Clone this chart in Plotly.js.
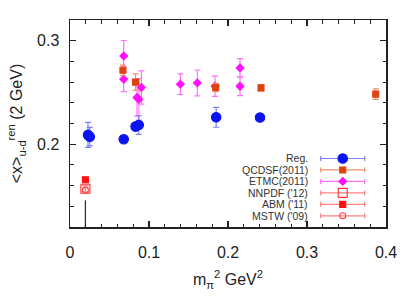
<!DOCTYPE html>
<html><head><meta charset="utf-8">
<script src="https://cdn.plot.ly/plotly-3.0.1.min.js"></script>
<style>html,body{margin:0;padding:0;background:#fff}#chart{width:415px;height:297px}</style>
</head><body><div id="chart"></div>
<script>
// ---- data ----
const regX = [0.0228, 0.0250, 0.0680, 0.0830, 0.0870, 0.1850, 0.2405];
const regY = [0.2090, 0.2073, 0.2048, 0.2170, 0.2185, 0.2260, 0.2258];
const regErr = [0.012, 0.009, 0.003, 0.004, 0.009, 0.0096, 0.003];

const qcdsfX = [0.067, 0.083, 0.1844, 0.2418, 0.387];
const qcdsfY = [0.2714, 0.2600, 0.2548, 0.2544, 0.2484];
const qcdsfErr = [0.005, 0.008, 0.004, 0.003, 0.005];

const etmcX = [0.068, 0.068, 0.0848, 0.0872, 0.0904, 0.1397, 0.1612, 0.1836, 0.2152, 0.2152];
const etmcY = [0.2852, 0.2628, 0.2452, 0.2433, 0.2548, 0.2580, 0.2592, 0.2560, 0.2737, 0.2560];
const etmcErr = [0.015, 0.012, 0.018, 0.020, 0.016, 0.010, 0.0125, 0.0097, 0.009, 0.009];

const nnpdfX = [0.0195], nnpdfY = [0.1570], nnpdfErr = [0.003];
const abmX = [0.0195], abmY = [0.1657], abmErr = [0.002];
const mstwX = [0.0195], mstwY = [0.1554], mstwErr = [0.003];
const stemX = [0.0195, 0.0195], stemY = [0.1458, 0.10];

const legendLabels = ["Reg.", "QCDSF(2011)", "ETMC(2011)", "NNPDF ('12)", "ABM ('11)", "MSTW ('09)"];

// ---- styles ----
const styles = [
  {sym:'circle', size:9.5, color:'#0a14f0', line:'#0a14f0', err:'#7a80ff'},
  {sym:'square', size:6, color:'#e0420e', line:'#e0420e', err:'#f0906a'},
  {sym:'diamond', size:6, color:'#ff10ff', line:'#ff10ff', err:'#ff70ff'},
  {sym:'square-open', size:9, color:'#ff3030', line:'#ff3030', err:'#ff8080'},
  {sym:'square', size:6, color:'#ff1010', line:'#ff1010', err:'#ff8080'},
  {sym:'circle-open', size:6, color:'#ff4040', line:'#ff4040', err:'#ff8080'}
];

function series(x, y, e, s) {
  return {x:x, y:y, type:'scatter', mode:'markers', showlegend:false, cliponaxis:true,
    marker:{symbol:s.sym, size:s.size, color:s.color, line:{color:s.line, width:1.1}},
    error_y:{type:'data', array:e, visible:true, color:s.err, thickness:1.2, width:3}};
}

const traces = [
  {x:stemX, y:stemY, type:'scatter', mode:'lines', showlegend:false, line:{color:'#333', width:1.3}, hoverinfo:'skip'},
  series(nnpdfX, nnpdfY, nnpdfErr, styles[3]),
  series(mstwX, mstwY, mstwErr, styles[5]),
  series(abmX, abmY, abmErr, styles[4]),
  series(etmcX, etmcY, etmcErr, styles[2]),
  series(qcdsfX, qcdsfY, qcdsfErr, styles[1]),
  series(regX, regY, regErr, styles[0])
];

// ---- custom legend (symbols right of labels, with horizontal bars) ----
const L = {keyX:0.863, half:0.0696, top:0.331, step:0.0554, textX:0.758};
const annotations = [];
legendLabels.forEach((lab, i) => {
  const s = styles[i];
  const yy = L.top - i*L.step;
  traces.push({x:[L.keyX], y:[yy], xaxis:'x2', yaxis:'y2', type:'scatter', mode:'markers', showlegend:false,
    marker:{symbol:s.sym, size:s.size, color:s.color, line:{color:s.line, width:1.1}},
    error_x:{type:'constant', value:L.half, visible:true, color:s.err, thickness:1.2, width:2.5}, hoverinfo:'skip'});
  annotations.push({xref:'paper', yref:'paper', x:L.textX, y:yy, xanchor:'right', yanchor:'middle',
    text:lab, showarrow:false, font:{size:10.5, color:'#333'}});
});

const axisCommon = {showgrid:false, zeroline:false, showline:true, linecolor:'#222', linewidth:1.5,
  mirror:'allticks', ticks:'inside', ticklen:6, tickwidth:1.2, tickcolor:'#222',
  tickfont:{size:16, color:'#222'}};

const layout = {
  width:415, height:297,
  margin:{l:70, r:29, t:19.5, b:70, pad:0},
  paper_bgcolor:'#fff', plot_bgcolor:'#fff',
  font:{family:'"Liberation Sans", Arial, sans-serif', color:'#222'},
  xaxis:Object.assign({}, axisCommon, {range:[0,0.4], dtick:0.1, tick0:0, ticklabelstandoff:10,
    minor:{dtick:0.02, ticks:'inside', ticklen:3.5, tickcolor:'#222', tickwidth:1},
    title:{text:'m<sub>π</sub><sup>2</sup> GeV<sup>2</sup>', font:{size:16, color:'#222'}, standoff:14}}),
  yaxis:Object.assign({}, axisCommon, {range:[0.12,0.32], dtick:0.1, tick0:0, ticklabelstandoff:6,
    minor:{dtick:0.02, ticks:'inside', ticklen:3.5, tickcolor:'#222', tickwidth:1},
    title:{text:'&lt;x&gt;<sub>u-d</sub><sup>ren</sup> (2 GeV)', font:{size:16, color:'#222'}, standoff:10}}),
  xaxis2:{overlaying:'x', range:[0,1], visible:false, fixedrange:true},
  yaxis2:{overlaying:'y', range:[0,1], visible:false, fixedrange:true},
  annotations:annotations,
  showlegend:false
};

Plotly.newPlot('chart', traces, layout, {staticPlot:true, displayModeBar:false});
</script></body></html>
